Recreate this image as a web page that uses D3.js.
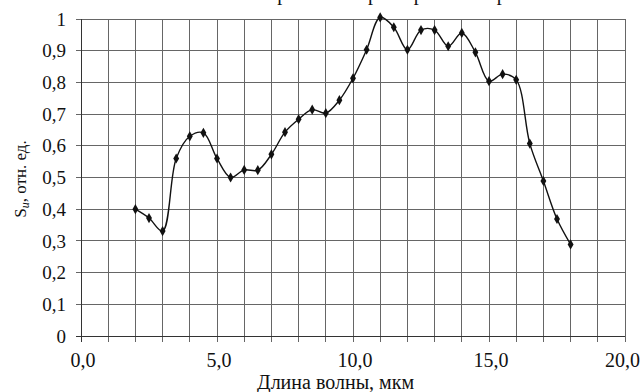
<!DOCTYPE html>
<html><head><meta charset="utf-8">
<script src="https://cdn.jsdelivr.net/npm/d3@7"></script>
<style>html,body{margin:0;padding:0;background:#fff;overflow:hidden}svg{display:block}</style>
</head><body>
<script>
const wavelengths = [2,2.5,3,3.5,4,4.5,5,5.5,6,6.5,7,7.5,8,8.5,9,9.5,10,10.5,11,11.5,12,12.5,13,13.5,14,14.5,15,15.5,16,16.5,17,17.5,18];
const sensitivity = [0.40,0.372,0.331,0.56,0.63,0.641,0.56,0.50,0.524,0.523,0.573,0.643,0.684,0.714,0.703,0.744,0.813,0.903,1.005,0.974,0.903,0.965,0.965,0.914,0.956,0.895,0.804,0.826,0.808,0.607,0.489,0.369,0.289];
const xTicks = [0,5,10,15,20];
const xTickLabels = ["0,0","5,0","10,0","15,0","20,0"];
const yTicks = [0,0.1,0.2,0.3,0.4,0.5,0.6,0.7,0.8,0.9,1];
const yTickLabels = ["0","0,1","0,2","0,3","0,4","0,5","0,6","0,7","0,8","0,9","1"];
const xGrid = d3.range(0,21,1);

const W=642,H=392;
const m={left:81,right:17,top:19,bottom:56};
const svg=d3.select("body").append("svg").attr("width",W).attr("height",H);
const x=d3.scaleLinear().domain([0,20]).range([m.left,W-m.right]);
const y=d3.scaleLinear().domain([0,1]).range([H-m.bottom,m.top]);
const font="'Liberation Serif','Times New Roman',serif";

// title line, mostly above the visible area as in the reference
svg.append("text").attr("x",226).attr("y",0)
  .attr("font-family",font).attr("font-size",20).attr("fill","#111")
  .text("Спектральная характеристика приёмника");

const g=svg.append("g");
g.selectAll("line.h").data(yTicks).join("line")
  .attr("x1",x(0)-5).attr("x2",x(20)).attr("y1",d=>y(d)).attr("y2",d=>y(d))
  .attr("stroke","#666").attr("stroke-width",1).attr("shape-rendering","crispEdges");
g.selectAll("line.v").data(xGrid).join("line")
  .attr("x1",d=>x(d)).attr("x2",d=>x(d)).attr("y1",y(1)).attr("y2",y(0)+6)
  .attr("stroke","#666").attr("stroke-width",1).attr("shape-rendering","crispEdges");
g.append("line").attr("x1",x(0)).attr("x2",x(0)).attr("y1",y(1)).attr("y2",y(0)+6).attr("stroke","#333").attr("shape-rendering","crispEdges");
g.append("line").attr("x1",x(0)-5).attr("x2",x(20)).attr("y1",y(0)).attr("y2",y(0)).attr("stroke","#333").attr("shape-rendering","crispEdges");

svg.selectAll("text.yt").data(yTicks).join("text")
  .attr("x",x(0)-15).attr("y",d=>y(d)).attr("dy","0.35em").attr("text-anchor","end")
  .attr("font-family",font).attr("font-size",19).attr("fill","#111")
  .text((d,i)=>yTickLabels[i]);
svg.selectAll("text.xt").data(xTicks).join("text")
  .attr("x",(d,i)=>i===xTicks.length-1 ? W-2 : x(d)+2).attr("y",y(0)+31)
  .attr("text-anchor",(d,i)=>i===xTicks.length-1 ? "end" : "middle")
  .attr("font-family",font).attr("font-size",20).attr("fill","#111")
  .text((d,i)=>xTickLabels[i]);
svg.append("text").attr("x",257).attr("y",389)
  .attr("font-family",font).attr("font-size",20).attr("fill","#111")
  .text("Длина волны, мкм");
const yt=svg.append("text").attr("transform","translate(26,179) rotate(-90)").attr("text-anchor","middle")
  .attr("font-family",font).attr("font-size",17).attr("fill","#111");
yt.append("tspan").text("S");
yt.append("tspan").attr("font-style","italic").attr("font-size",12).attr("dy",3).text("и");
yt.append("tspan").attr("dy",-3).text(", отн. ед.");

const pts=wavelengths.map((w,i)=>[w,sensitivity[i]]);
const line=d3.line().x(d=>x(d[0])).y(d=>y(d[1])).curve(d3.curveCatmullRom.alpha(0.5));
svg.append("path").attr("d",line(pts)).attr("fill","none").attr("stroke","#111").attr("stroke-width",1.4);
svg.selectAll("path.mk").data(pts).join("path")
  .attr("d",d3.symbol(d3.symbolDiamond,30)())
  .attr("transform",d=>`translate(${x(d[0])},${y(d[1])})`).attr("fill","#111");
</script>
</body></html>
